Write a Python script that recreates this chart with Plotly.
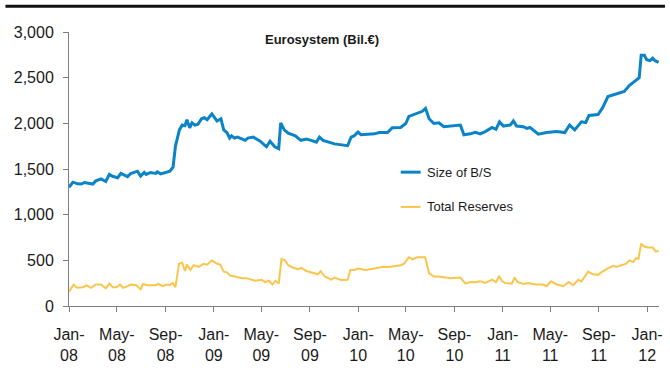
import plotly.graph_objects as go

# Eurosystem weekly balance sheet, EUR bn
bs_dates = [
    "2008-01-01", "2008-01-11", "2008-01-23", "2008-02-01", "2008-02-09", "2008-03-01",
    "2008-03-09", "2008-03-22", "2008-04-03", "2008-04-12", "2008-04-20", "2008-05-03",
    "2008-05-11", "2008-05-28", "2008-06-05", "2008-06-22", "2008-06-30", "2008-07-09",
    "2008-07-14", "2008-07-25", "2008-08-07", "2008-08-11", "2008-08-20", "2008-09-01",
    "2008-09-12", "2008-09-20", "2008-09-26", "2008-10-06", "2008-10-13", "2008-10-20",
    "2008-10-25", "2008-11-01", "2008-11-07", "2008-11-14", "2008-11-22", "2008-12-01",
    "2008-12-08", "2008-12-15", "2008-12-27", "2009-01-09", "2009-01-19", "2009-01-26",
    "2009-02-03", "2009-02-10", "2009-02-15", "2009-02-22", "2009-03-02", "2009-03-21",
    "2009-03-28", "2009-04-11", "2009-04-28", "2009-05-14", "2009-05-23", "2009-06-04",
    "2009-06-14", "2009-06-19", "2009-06-28", "2009-07-08", "2009-07-26", "2009-08-09",
    "2009-08-23", "2009-09-04", "2009-09-17", "2009-09-25", "2009-10-04", "2009-11-02",
    "2009-12-01", "2009-12-05", "2009-12-14", "2009-12-22", "2009-12-31", "2010-01-08",
    "2010-02-11", "2010-02-23", "2010-03-16", "2010-03-28", "2010-04-18", "2010-05-01",
    "2010-05-09", "2010-05-22", "2010-06-04", "2010-06-12", "2010-06-20", "2010-06-29",
    "2010-07-11", "2010-07-24", "2010-08-05", "2010-08-22", "2010-09-16", "2010-09-25",
    "2010-10-11", "2010-10-24", "2010-11-05", "2010-11-18", "2010-12-05", "2010-12-15",
    "2010-12-24", "2011-01-03", "2011-01-20", "2011-01-28", "2011-02-05", "2011-02-22",
    "2011-03-03", "2011-03-11", "2011-04-01", "2011-04-22", "2011-05-17", "2011-06-07",
    "2011-06-19", "2011-07-02", "2011-07-19", "2011-07-30", "2011-08-07", "2011-08-30",
    "2011-09-11", "2011-09-24", "2011-10-10", "2011-10-23", "2011-11-04", "2011-11-17",
    "2011-11-30", "2011-12-12", "2011-12-17", "2011-12-25", "2011-12-31", "2012-01-08",
    "2012-01-15", "2012-01-21", "2012-01-30",
]
bs_size = [
    1300, 1356, 1338, 1335, 1352, 1335,
    1370, 1391, 1363, 1441, 1420, 1405,
    1451, 1416, 1451, 1476, 1423, 1462,
    1441, 1462, 1451, 1468, 1447, 1462,
    1476, 1521, 1751, 1928, 1981, 1973,
    2040, 1952, 2005, 1981, 1991, 2050,
    2061, 2040, 2103, 2026, 2050, 1928,
    1899, 1839, 1864, 1839, 1849, 1814,
    1839, 1849, 1804, 1743, 1804, 1743,
    1722, 2005, 1928, 1892, 1864, 1814,
    1828, 1814, 1793, 1849, 1814, 1775,
    1761, 1755, 1849, 1864, 1905, 1875,
    1885, 1899, 1899, 1952, 1955, 1998,
    2076, 2097, 2121, 2132, 2164, 2050,
    1998, 2005, 1963, 1970, 1981, 1875,
    1885, 1902, 1885, 1910, 1955, 1934,
    2016, 1970, 1981, 2026, 1970, 1963,
    1945, 1955, 1881, 1899, 1910, 1899,
    1981, 1928, 2016, 2008, 2086, 2097,
    2174, 2293, 2315, 2340, 2350, 2414,
    2463, 2499, 2746, 2746, 2696, 2686,
    2714, 2686, 2668,
]

res_dates = [
    "2008-01-01", "2008-01-13", "2008-01-21", "2008-02-05", "2008-02-15", "2008-02-26",
    "2008-03-09", "2008-03-22", "2008-04-03", "2008-04-12", "2008-04-20", "2008-04-30",
    "2008-05-09", "2008-05-17", "2008-05-28", "2008-06-05", "2008-06-19", "2008-06-30",
    "2008-07-06", "2008-07-17", "2008-08-07", "2008-08-14", "2008-08-24", "2008-09-05",
    "2008-09-11", "2008-09-19", "2008-09-26", "2008-10-05", "2008-10-13", "2008-10-20",
    "2008-10-25", "2008-11-03", "2008-11-11", "2008-11-24", "2008-12-06", "2008-12-15",
    "2008-12-27", "2009-01-09", "2009-01-17", "2009-01-26", "2009-02-03", "2009-02-11",
    "2009-02-24", "2009-03-13", "2009-03-25", "2009-04-15", "2009-05-02", "2009-05-10",
    "2009-05-20", "2009-05-29", "2009-06-06", "2009-06-14", "2009-06-21", "2009-06-30",
    "2009-07-08", "2009-07-21", "2009-08-02", "2009-08-10", "2009-08-23", "2009-09-13",
    "2009-09-21", "2009-09-28", "2009-10-08", "2009-10-25", "2009-11-02", "2009-11-19",
    "2009-12-05", "2009-12-12", "2009-12-22", "2009-12-31", "2010-01-20", "2010-02-11",
    "2010-03-03", "2010-03-20", "2010-04-18", "2010-04-27", "2010-05-09", "2010-05-18",
    "2010-05-30", "2010-06-19", "2010-06-29", "2010-07-11", "2010-07-24", "2010-08-09",
    "2010-08-22", "2010-09-16", "2010-09-29", "2010-10-11", "2010-10-24", "2010-11-05",
    "2010-11-18", "2010-12-05", "2010-12-15", "2010-12-23", "2010-12-30", "2011-01-07",
    "2011-01-24", "2011-01-31", "2011-02-08", "2011-02-22", "2011-03-07", "2011-03-23",
    "2011-04-13", "2011-04-22", "2011-05-03", "2011-05-15", "2011-06-03", "2011-06-17",
    "2011-06-28", "2011-07-11", "2011-07-19", "2011-08-05", "2011-08-17", "2011-08-30",
    "2011-09-07", "2011-09-24", "2011-10-07", "2011-10-15", "2011-10-27", "2011-11-09",
    "2011-11-17", "2011-11-27", "2011-12-04", "2011-12-10", "2011-12-17", "2011-12-25",
    "2012-01-02", "2012-01-15", "2012-01-23", "2012-01-30",
]
total_reserves = [
    157, 235, 199, 206, 227, 199,
    235, 235, 193, 245, 206, 206,
    235, 199, 217, 235, 227, 182,
    241, 227, 227, 241, 217, 235,
    227, 252, 206, 463, 474, 383,
    453, 394, 446, 428, 463, 453,
    499, 463, 453, 376, 368, 333,
    323, 305, 305, 277, 288, 262,
    277, 235, 277, 245, 516, 499,
    446, 418, 404, 418, 383, 358,
    347, 383, 323, 288, 312, 284,
    288, 394, 394, 411, 394, 411,
    428, 428, 446, 463, 534, 510,
    534, 534, 358, 323, 323, 312,
    305, 312, 245, 262, 259, 270,
    252, 288, 262, 323, 277, 252,
    245, 312, 262, 241, 252, 235,
    235, 217, 270, 241, 217, 262,
    227, 288, 270, 376, 347, 341,
    368, 411, 439, 428, 446, 463,
    499, 481, 524, 516, 682, 651,
    640, 640, 595, 605,
]

tick_dates = [
    "2008-01-01", "2008-05-01", "2008-09-01", "2009-01-01", "2009-05-01",
    "2009-09-01", "2010-01-01", "2010-05-01", "2010-09-01", "2011-01-01",
    "2011-05-01", "2011-09-01", "2012-01-01",
]
tick_text = [
    "Jan-<br>08", "May-<br>08", "Sep-<br>08", "Jan-<br>09", "May-<br>09",
    "Sep-<br>09", "Jan-<br>10", "May-<br>10", "Sep-<br>10", "Jan-<br>11",
    "May-<br>11", "Sep-<br>11", "Jan-<br>12",
]
y_ticks = [0, 500, 1000, 1500, 2000, 2500, 3000]

BLUE = "#0a84c6"
GOLD = "#fbc54c"
AXIS = "#7f7f7f"
FONT = "Liberation Sans, Arial, sans-serif"

fig = go.Figure()
fig.add_trace(go.Scatter(x=bs_dates, y=bs_size, mode="lines", name="Size of B/S",
                         line=dict(color=BLUE, width=3), showlegend=False))
fig.add_trace(go.Scatter(x=res_dates, y=total_reserves, mode="lines", name="Total Reserves",
                         line=dict(color=GOLD, width=2), showlegend=False))

# hand-drawn legend keys
legend_items = [("Size of B/S", BLUE, 3, 0.4885), ("Total Reserves", GOLD, 2, 0.3616)]
for label, color, w, yy in legend_items:
    fig.add_shape(type="line", xref="paper", yref="paper", x0=0.5623, x1=0.596,
                  y0=yy, y1=yy, line=dict(color=color, width=w))
    fig.add_annotation(x=0.6027, y=yy, xref="paper", yref="paper", text=label,
                       showarrow=False, xanchor="left", yanchor="middle",
                       font=dict(family=FONT, size=13, color="#1a1a1a"))

# title
fig.add_annotation(x=0.429, y=0.972, xref="paper", yref="paper",
                   text="<b>Eurosystem (Bil.€)</b>", showarrow=False,
                   xanchor="center", yanchor="middle",
                   font=dict(family=FONT, size=13, color="#1a1a1a"))

# heavy rule across the top
fig.add_shape(type="line", xref="paper", yref="paper", x0=-0.1077, x1=1.0101,
              y0=1.0942, y1=1.0942, line=dict(color="#111111", width=3))

fig.update_xaxes(type="date", range=["2008-01-01", "2012-01-31"],
                 tickvals=tick_dates, ticktext=tick_text,
                 ticks="outside", ticklen=5, tickcolor=AXIS, tickwidth=1,
                 showline=True, linecolor=AXIS, linewidth=1,
                 showgrid=False, zeroline=False, ticklabelstandoff=9,
                 tickfont=dict(family=FONT, size=16, color="#1a1a1a"))
fig.update_yaxes(range=[0, 3000], tickvals=y_ticks, tickformat=",",
                 ticks="outside", ticklen=5, tickcolor=AXIS, tickwidth=1,
                 showline=True, linecolor=AXIS, linewidth=1,
                 showgrid=False, zeroline=False, ticklabelstandoff=6,
                 tickfont=dict(family=FONT, size=16, color="#1a1a1a"))

fig.update_layout(width=670, height=371, margin=dict(l=69, r=7, t=32, b=56),
                  paper_bgcolor="white", plot_bgcolor="white", showlegend=False)

fig.write_html("out.html")
